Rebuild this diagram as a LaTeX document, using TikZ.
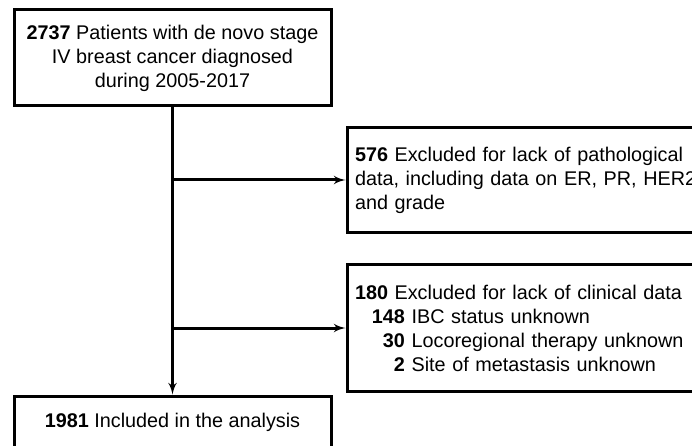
\documentclass[tikz,border=0pt]{standalone}
\usepackage{fontspec}
\setmainfont{Liberation Sans}
\usetikzlibrary{arrows}
\usetikzlibrary{positioning}

\begin{document}
\begin{tikzpicture}[auto, node distance=122pt, >=latex', line width=3pt, x=1pt, y=-1pt]
    \tikzstyle{block} = [draw, rectangle, align=center, inner sep=8pt, font=\fontsize{19.8}{24}\selectfont];
    \tikzstyle{mblock} = [block, minimum width=317pt];
    \tikzstyle{xblock} = [block, align=left, text width=360pt];
    \useasboundingbox (0,0) rectangle (692,446);
    \clip (0,0) rectangle (692,446);
    \node [mblock, minimum height=96pt] (top) at (172.5,58) {\textbf{2737} Patients with de novo stage \\ IV breast cancer diagnosed \\ during 2005-2017};
    \coordinate [below of=top] (j1);
    \coordinate [below of=top, node distance=270pt] (j2);
    \node [mblock, minimum height=52pt, below of=top, node distance=364pt] (incl) {\textbf{1981} Included in the analysis};
    \node [xblock, minimum height=104pt, right=173pt of j1] (excl1) {\textbf{576} Excluded for lack of pathological \\
    data, including data on ER, PR, HER2, \\ and grade};
    \node [xblock, minimum height=127pt, right=173pt of j2] (excl2) {\textbf{180} Excluded for lack of clinical data \\
    \makebox[50pt][r]{\textbf{148}} IBC status unknown \\
    \makebox[50pt][r]{\textbf{30}} Locoregional therapy unknown \\
    \makebox[50pt][r]{\textbf{2}} Site of metastasis unknown};
    \draw [->] (top) -- (incl);
    \draw [->] (j1) -- (excl1);
    \draw [->] (j2) -- (excl2);
\end{tikzpicture}
\end{document}
